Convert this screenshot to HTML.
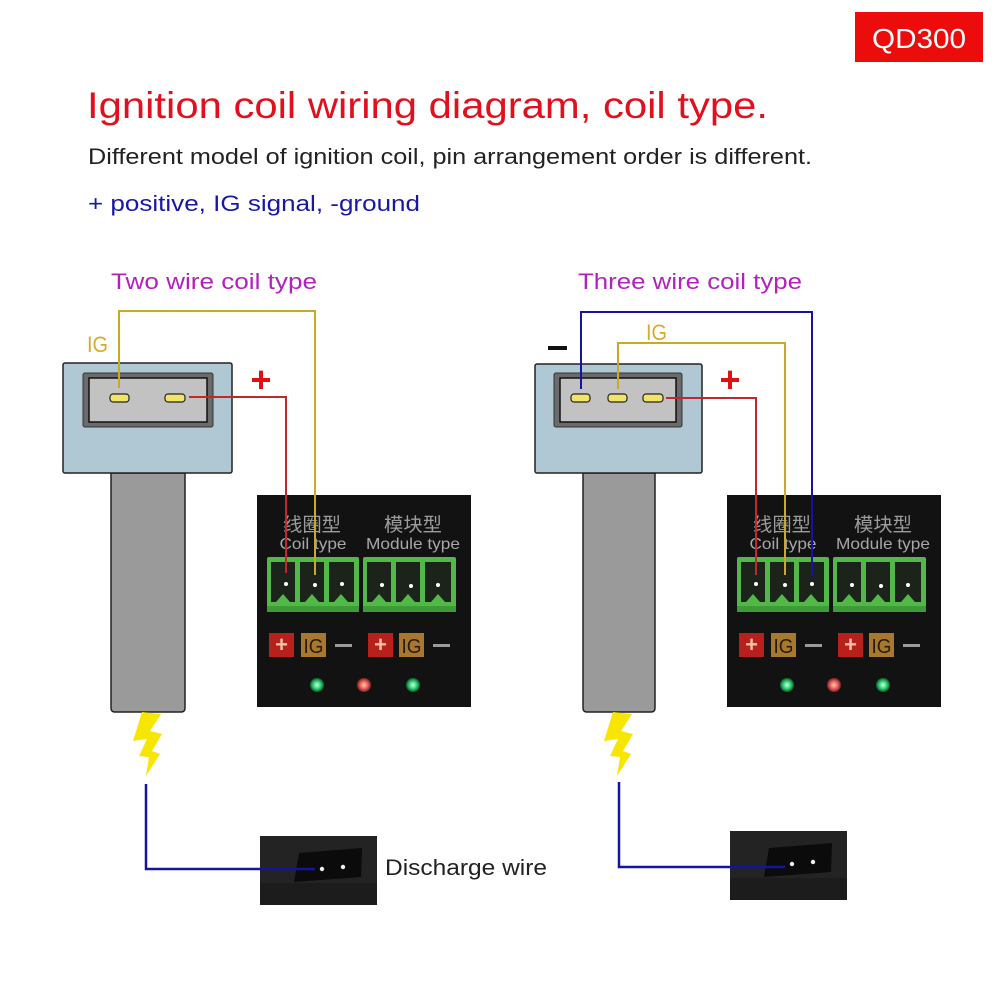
<!DOCTYPE html>
<html><head><meta charset="utf-8"><style>
html,body{margin:0;padding:0;background:#fff;}
svg{display:block;}
</style></head><body>
<svg width="1000" height="1000" viewBox="0 0 1000 1000" xmlns="http://www.w3.org/2000/svg" font-family="'Liberation Sans', 'Noto Sans CJK SC', sans-serif">
<defs>
  <radialGradient id="gled" cx="50%" cy="50%" r="50%">
    <stop offset="0%" stop-color="#d8ffe8"/>
    <stop offset="55%" stop-color="#30d070"/>
    <stop offset="100%" stop-color="#0a5a30"/>
  </radialGradient>
  <radialGradient id="rled" cx="50%" cy="50%" r="50%">
    <stop offset="0%" stop-color="#ffd0a0"/>
    <stop offset="55%" stop-color="#e86060"/>
    <stop offset="100%" stop-color="#7a2020"/>
  </radialGradient>
  <g id="module">
    <rect x="257" y="495" width="214" height="212" fill="#121212"/>
    <text x="312" y="531" text-anchor="middle" font-size="19" fill="#9c9c9c" font-family="'Noto Sans CJK SC', sans-serif" textLength="58" lengthAdjust="spacingAndGlyphs">线圈型</text>
    <text x="413" y="531" text-anchor="middle" font-size="19" fill="#9c9c9c" font-family="'Noto Sans CJK SC', sans-serif" textLength="58" lengthAdjust="spacingAndGlyphs">模块型</text>
    <text x="313" y="549" text-anchor="middle" font-size="16" fill="#a8a8a8" textLength="67" lengthAdjust="spacingAndGlyphs">Coil type</text>
    <text x="413" y="549" text-anchor="middle" font-size="16" fill="#a8a8a8" textLength="94" lengthAdjust="spacingAndGlyphs">Module type</text>
    <rect x="267" y="557" width="92" height="55" fill="#52b848" rx="2"/>
    <rect x="363" y="557" width="93" height="55" fill="#52b848" rx="2"/>
    <g fill="#1b231b">
      <rect x="271" y="562" width="24" height="40"/>
      <rect x="300" y="562" width="24" height="40"/>
      <rect x="329" y="562" width="25" height="40"/>
      <rect x="367" y="562" width="24" height="40"/>
      <rect x="396" y="562" width="24" height="40"/>
      <rect x="425" y="562" width="26" height="40"/>
    </g>
    <g fill="#52b848">
      <polygon points="276,602 290,602 283,594"/>
      <polygon points="305,602 319,602 312,594"/>
      <polygon points="334,602 348,602 341,594"/>
      <polygon points="372,602 386,602 379,594"/>
      <polygon points="401,602 415,602 408,594"/>
      <polygon points="431,602 445,602 438,594"/>
    </g>
    <rect x="267" y="606" width="92" height="6" fill="#3f9a38"/>
    <rect x="363" y="606" width="93" height="6" fill="#3f9a38"/>
    <g fill="#fff">
      <circle cx="286" cy="584" r="2"/>
      <circle cx="315" cy="585" r="2"/>
      <circle cx="342" cy="584" r="2"/>
      <circle cx="382" cy="585" r="2"/>
      <circle cx="411" cy="586" r="2"/>
      <circle cx="438" cy="585" r="2"/>
    </g>
    <rect x="269" y="633" width="25" height="24" fill="#b8201c"/>
    <text x="281.5" y="652" text-anchor="middle" font-size="22" font-weight="bold" fill="#f6c0a8">+</text>
    <rect x="301" y="633" width="25" height="24" fill="#a8782e"/>
    <text x="313.5" y="653" text-anchor="middle" font-size="20" fill="#2a1a08" textLength="20" lengthAdjust="spacingAndGlyphs">IG</text>
    <rect x="335" y="644" width="17" height="3" fill="#9a9a9a"/>
    <rect x="368" y="633" width="25" height="24" fill="#b8201c"/>
    <text x="380.5" y="652" text-anchor="middle" font-size="22" font-weight="bold" fill="#f6c0a8">+</text>
    <rect x="399" y="633" width="25" height="24" fill="#a8782e"/>
    <text x="411.5" y="653" text-anchor="middle" font-size="20" fill="#2a1a08" textLength="20" lengthAdjust="spacingAndGlyphs">IG</text>
    <rect x="433" y="644" width="17" height="3" fill="#9a9a9a"/>
    <circle cx="317" cy="685" r="7" fill="url(#gled)"/>
    <circle cx="364" cy="685" r="7" fill="url(#rled)"/>
    <circle cx="413" cy="685" r="7" fill="url(#gled)"/>
  </g>
  <g id="discharge">
    <rect x="260" y="836" width="117" height="69" fill="#232323"/>
    <rect x="260" y="883" width="117" height="22" fill="#1c1c1c"/>
    <polygon points="299,853 362,848 361,877 294,882" fill="#0b0b0b"/>
    <circle cx="322" cy="869" r="2.2" fill="#eee"/>
    <circle cx="343" cy="867" r="2.2" fill="#eee"/>
  </g>
  <path id="bolt" d="M142,712 L161,714 L150,731 L162,734 L152,751 L160,754 L146,776 L149,757 L139,756 L147,739 L133,741 Z" fill="#f6e600"/>
</defs>

<rect x="855" y="12" width="128" height="50" fill="#ec0c0c"/>
<text x="919" y="48" text-anchor="middle" font-size="28" fill="#fff" textLength="94" lengthAdjust="spacingAndGlyphs">QD300</text>
<text x="87" y="118" font-size="37" fill="#e1101c" textLength="681" lengthAdjust="spacingAndGlyphs">Ignition coil wiring diagram, coil type.</text>
<text x="88" y="164" font-size="22" fill="#222" textLength="724" lengthAdjust="spacingAndGlyphs">Different model of ignition coil, pin arrangement order is different.</text>
<text x="88" y="211" font-size="22" fill="#1818a8" textLength="332" lengthAdjust="spacingAndGlyphs">+ positive, IG signal, -ground</text>

<text x="111" y="289" font-size="22" fill="#b41fc0" textLength="206" lengthAdjust="spacingAndGlyphs">Two wire coil type</text>
<text x="578" y="289" font-size="22" fill="#b41fc0" textLength="224" lengthAdjust="spacingAndGlyphs">Three wire coil type</text>

<use href="#module"/>
<use href="#module" transform="translate(470,0)"/>

<!-- LEFT coil -->
<path d="M111,473 L185,473 L185,708 Q185,712 181,712 L115,712 Q111,712 111,708 Z" fill="#9a9a9a" stroke="#222" stroke-width="1.5"/>
<rect x="63" y="363" width="169" height="110" rx="2" fill="#b0c8d4" stroke="#222" stroke-width="1.5"/>
<rect x="83" y="373" width="130" height="54" rx="2" fill="#6b6b6b" stroke="#333" stroke-width="1"/>
<rect x="89" y="378" width="118" height="44" fill="#c2c2c2" stroke="#111" stroke-width="1.5"/>
<rect x="110" y="394" width="19" height="8" rx="3" fill="#f2e36a" stroke="#222" stroke-width="1.2"/>
<rect x="165" y="394" width="20" height="8" rx="3" fill="#f2e36a" stroke="#222" stroke-width="1.2"/>
<text x="87" y="352" font-size="22" fill="#d4ac30" textLength="21" lengthAdjust="spacingAndGlyphs">IG</text>
<text x="261" y="392" text-anchor="middle" font-size="36" font-weight="bold" fill="#e01010">+</text>
<polyline points="119,388 119,311 315,311 315,575" fill="none" stroke="#c9a92a" stroke-width="2"/>
<polyline points="189,397 286,397 286,573" fill="none" stroke="#c0282a" stroke-width="2"/>
<use href="#bolt"/>
<use href="#discharge"/>
<polyline points="146,784 146,869 315,869" fill="none" stroke="#1414a0" stroke-width="2.5"/>
<text x="385" y="875" font-size="22" fill="#222" textLength="162" lengthAdjust="spacingAndGlyphs">Discharge wire</text>

<!-- RIGHT coil -->
<path d="M583,473 L655,473 L655,708 Q655,712 651,712 L587,712 Q583,712 583,708 Z" fill="#9a9a9a" stroke="#222" stroke-width="1.5"/>
<rect x="535" y="364" width="167" height="109" rx="2" fill="#b0c8d4" stroke="#222" stroke-width="1.5"/>
<rect x="554" y="373" width="128" height="54" rx="2" fill="#6b6b6b" stroke="#333" stroke-width="1"/>
<rect x="560" y="378" width="116" height="44" fill="#c2c2c2" stroke="#111" stroke-width="1.5"/>
<rect x="571" y="394" width="19" height="8" rx="3" fill="#f2e36a" stroke="#222" stroke-width="1.2"/>
<rect x="608" y="394" width="19" height="8" rx="3" fill="#f2e36a" stroke="#222" stroke-width="1.2"/>
<rect x="643" y="394" width="20" height="8" rx="3" fill="#f2e36a" stroke="#222" stroke-width="1.2"/>
<rect x="548" y="346" width="19" height="4" fill="#111"/>
<text x="646" y="340" font-size="22" fill="#d4ac30" textLength="21" lengthAdjust="spacingAndGlyphs">IG</text>
<text x="730" y="392" text-anchor="middle" font-size="36" font-weight="bold" fill="#e01010">+</text>
<polyline points="581,389 581,312 812,312 812,577" fill="none" stroke="#1414a0" stroke-width="2"/>
<polyline points="618,389 618,343 785,343 785,575" fill="none" stroke="#c9a92a" stroke-width="2"/>
<polyline points="666,398 756,398 756,575" fill="none" stroke="#c0282a" stroke-width="2"/>
<use href="#bolt" transform="translate(471,0)"/>
<use href="#discharge" transform="translate(470,-5)"/>
<polyline points="619,782 619,867 785,867" fill="none" stroke="#1414a0" stroke-width="2.5"/>
</svg>
</body></html>
